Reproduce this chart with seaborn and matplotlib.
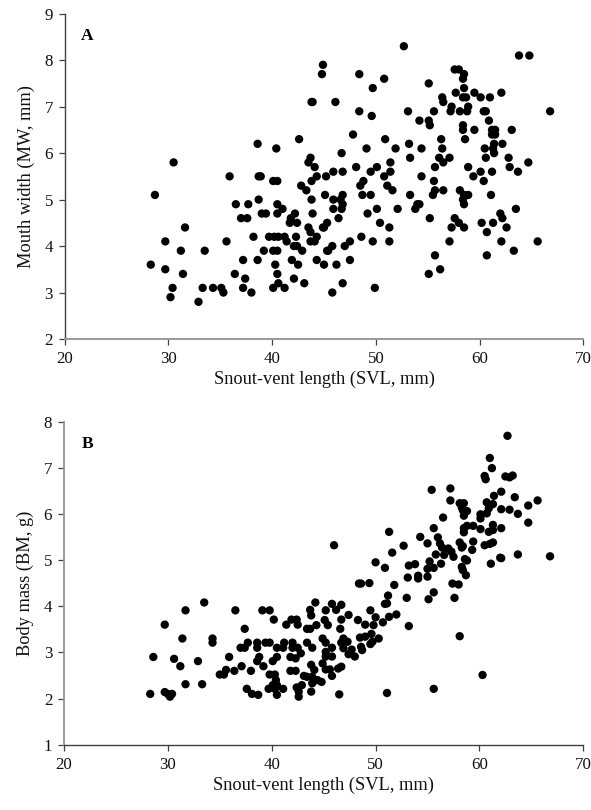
import matplotlib
matplotlib.use("Agg")
import matplotlib.pyplot as plt
import seaborn as sns

sns.set_theme(style="white")
plt.rcParams['font.family'] = ['Liberation Serif', 'DejaVu Serif']

x_ticks = [20, 30, 40, 50, 60, 70]
y_ticks_a = [2, 3, 4, 5, 6, 7, 8, 9]
y_ticks_b = [1, 2, 3, 4, 5, 6, 7, 8]
x_title = "Snout-vent length (SVL, mm)"
y_title_a = "Mouth width (MW, mm)"
y_title_b = "Body mass (BM, g)"

svl_a = [
    52.7, 63.8, 64.8, 44.9, 57.6, 58.0, 44.8, 48.4, 58.5, 50.8, 58.4, 55.1,
    49.7, 58.5, 57.7, 59.5, 62.1, 56.4, 58.4, 58.7, 60.1, 61.0, 43.9, 43.8,
    46.1, 56.5, 57.3, 58.9, 48.4, 53.1, 55.6, 57.2, 58.1, 58.8, 60.4, 60.6,
    66.8, 49.6, 54.2, 55.1, 60.9, 55.2, 58.4, 58.4, 59.5, 61.2, 61.5, 63.1,
    47.8, 61.2, 61.5, 42.6, 50.9, 56.3, 58.6, 38.6, 53.2, 61.4, 62.2, 40.4,
    49.1, 51.9, 54.4, 56.4, 60.5, 61.3, 46.7, 61.4, 43.7, 53.3, 56.1, 57.1,
    60.6, 62.8, 30.5, 43.5, 51.4, 56.5, 64.7, 44.1, 48.1, 50.1, 55.7, 58.9,
    62.9, 45.9, 46.8, 49.5, 51.4, 60.1, 61.2, 63.7, 35.9, 38.7, 38.9, 44.3,
    45.2, 50.8, 54.4, 59.4, 40.1, 40.5, 43.8, 48.8, 55.6, 60.4, 42.8, 48.5,
    51.1, 43.3, 51.6, 55.7, 56.5, 58.1, 28.7, 45.1, 46.8, 48.7, 49.5, 53.3,
    55.5, 58.5, 58.9, 61.1, 38.7, 43.8, 45.9, 46.6, 58.4, 36.5, 37.7, 40.5,
    46.8, 54.2, 54.0, 58.5, 41.0, 45.9, 46.7, 50.1, 52.1, 53.8, 63.5, 39.0,
    39.4, 40.5, 42.2, 43.9, 49.2, 62.0, 37.0, 37.6, 41.8, 46.4, 55.2, 57.6,
    62.2, 41.7, 42.4, 45.3, 50.4, 58.0, 60.2, 61.3, 31.6, 43.5, 44.9, 45.0,
    51.3, 57.3, 58.5, 62.6, 43.7, 60.7, 38.2, 39.7, 40.2, 40.6, 41.2, 42.3,
    44.3, 48.6, 29.7, 35.6, 41.4, 43.7, 44.1, 47.5, 49.7, 51.3, 57.1, 62.1,
    65.6, 42.1, 42.4, 45.8, 47.0, 31.2, 33.5, 39.2, 40.1, 40.5, 42.9, 45.3,
    45.4, 63.3, 55.7, 60.7, 37.2, 38.6, 41.9, 44.3, 47.5, 28.3, 40.3, 42.5,
    45.0, 46.2, 29.7, 56.2, 31.4, 36.4, 40.5, 55.1, 37.4, 42.1, 40.6, 43.1,
    46.8, 30.4, 33.3, 34.3, 35.1, 37.2, 40.1, 41.2, 49.9, 35.3, 38.0, 45.8,
    30.2, 32.9,
]
mw_a = [
    8.3, 8.1, 8.1, 7.9, 7.8, 7.8, 7.7, 7.7, 7.7, 7.6, 7.6, 7.5,
    7.4, 7.4, 7.3, 7.3, 7.3, 7.2, 7.2, 7.2, 7.2, 7.2, 7.1, 7.1,
    7.1, 7.1, 7.0, 7.0, 6.9, 6.9, 6.9, 6.9, 6.9, 6.9, 6.9, 6.9,
    6.9, 6.8, 6.7, 6.7, 6.7, 6.6, 6.6, 6.5, 6.5, 6.5, 6.5, 6.5,
    6.4, 6.4, 6.4, 6.3, 6.3, 6.3, 6.3, 6.2, 6.2, 6.2, 6.2, 6.1,
    6.1, 6.1, 6.1, 6.1, 6.1, 6.1, 6.0, 6.0, 5.9, 5.9, 5.9, 5.9,
    5.9, 5.9, 5.8, 5.8, 5.8, 5.8, 5.8, 5.7, 5.7, 5.7, 5.7, 5.7,
    5.7, 5.6, 5.6, 5.6, 5.6, 5.6, 5.6, 5.6, 5.5, 5.5, 5.5, 5.5,
    5.5, 5.5, 5.5, 5.5, 5.4, 5.4, 5.4, 5.4, 5.4, 5.4, 5.3, 5.3,
    5.3, 5.2, 5.2, 5.2, 5.2, 5.2, 5.1, 5.1, 5.1, 5.1, 5.1, 5.1,
    5.1, 5.1, 5.1, 5.1, 5.0, 5.0, 5.0, 5.0, 5.0, 4.9, 4.9, 4.9,
    4.9, 4.9, 4.9, 4.9, 4.8, 4.8, 4.8, 4.8, 4.8, 4.8, 4.8, 4.7,
    4.7, 4.7, 4.7, 4.7, 4.7, 4.7, 4.6, 4.6, 4.6, 4.6, 4.6, 4.6,
    4.6, 4.5, 4.5, 4.5, 4.5, 4.5, 4.5, 4.5, 4.4, 4.4, 4.4, 4.4,
    4.4, 4.4, 4.4, 4.4, 4.3, 4.3, 4.2, 4.2, 4.2, 4.2, 4.2, 4.2,
    4.2, 4.2, 4.1, 4.1, 4.1, 4.1, 4.1, 4.1, 4.1, 4.1, 4.1, 4.1,
    4.1, 4.0, 4.0, 4.0, 4.0, 3.9, 3.9, 3.9, 3.9, 3.9, 3.9, 3.9,
    3.9, 3.9, 3.8, 3.8, 3.7, 3.7, 3.7, 3.7, 3.7, 3.6, 3.6, 3.6,
    3.6, 3.6, 3.5, 3.5, 3.4, 3.4, 3.4, 3.4, 3.3, 3.3, 3.2, 3.2,
    3.2, 3.1, 3.1, 3.1, 3.1, 3.1, 3.1, 3.1, 3.1, 3.0, 3.0, 3.0,
    2.9, 2.8,
]

svl_b = [
    28.3, 28.6, 29.7, 29.7, 30.0, 30.2, 30.4, 30.6,
    31.2, 31.7, 31.4, 31.7, 32.9, 33.3, 33.5, 34.3,
    34.3, 35.0, 35.4, 35.6, 35.9, 36.4, 36.5, 37.1,
    37.0, 37.4, 37.4, 37.7, 37.6, 38.0, 38.1, 38.7,
    38.6, 38.6, 39.1, 39.8, 40.2, 38.8, 38.6, 39.2,
    39.4, 39.8, 39.8, 40.3, 40.4, 40.1, 40.5, 39.7,
    40.3, 40.5, 41.1, 40.5, 40.1, 40.5, 41.2, 41.1,
    41.4, 41.9, 42.4, 42.5, 42.0, 42.0, 42.5, 42.8,
    41.8, 42.3, 41.8, 42.3, 43.1, 43.9, 42.4, 42.6,
    42.6, 42.9, 43.4, 43.9, 43.4, 43.7, 44.3, 43.7,
    43.8, 44.2, 45.2, 45.1, 45.4, 44.9, 45.2, 45.2,
    45.2, 44.9, 45.2, 43.8, 44.1, 43.4, 44.4, 44.8,
    43.9, 43.8, 60.3, 58.1, 55.6, 51.1, 46.5, 53.2,
    45.8, 45.6, 46.4, 46.7, 45.8, 45.8, 46.6, 46.7,
    47.4, 48.3, 49.0, 49.8, 50.7, 51.3, 52.0, 50.0,
    49.5, 45.8, 46.7, 46.2, 46.9, 47.3, 46.7, 46.9,
    47.7, 47.4, 48.0, 48.5, 49.0, 49.6, 50.3, 49.5,
    48.6, 48.7, 49.7, 62.7, 61.0, 61.2, 60.5, 60.6,
    62.5, 62.9, 63.2, 55.4, 57.2, 62.1, 61.4, 63.4,
    65.6, 64.7, 60.7, 57.2, 58.1, 58.5, 58.3, 61.3,
    60.9, 62.1, 62.9, 63.7, 60.7, 60.1, 60.1, 58.8,
    58.5, 58.4, 56.5, 64.7, 55.6, 51.3, 58.8, 59.4,
    60.1, 58.5, 58.5, 61.3, 62.1, 60.9, 61.3, 54.3,
    56.0, 55.0, 46.0, 52.7, 56.2, 56.4, 57.0, 57.3,
    57.5, 56.6, 55.8, 58.1, 58.4, 58.3, 59.4, 59.3,
    60.5, 61.0, 61.3, 63.7, 66.8, 62.0, 62.1, 61.1,
    51.6, 50.0, 50.9, 53.2, 53.8, 55.2, 55.0, 55.6,
    56.3, 58.6, 58.8, 58.3, 58.4, 58.7, 53.1, 54.1,
    54.1, 55.0, 57.4, 58.0, 48.4, 48.6, 49.4, 51.8,
    55.6, 51.2, 53.0, 55.1, 57.6, 50.9, 51.1,
]
bm_b = [
    2.10, 2.90, 3.60, 2.14, 2.10, 2.04, 2.10, 2.86,
    2.70, 3.91, 3.30, 2.31, 2.81, 2.31, 4.08, 3.30,
    3.21, 2.52, 2.52, 2.62, 2.90, 2.60, 3.91, 2.70,
    3.10, 3.51, 3.10, 3.21, 2.21, 2.60, 2.10, 2.08,
    3.21, 3.10, 3.91, 3.91, 3.71, 2.90, 2.81, 2.70,
    3.21, 3.21, 2.52, 2.52, 2.40, 2.81, 2.90, 2.21,
    2.21, 2.29, 2.21, 2.08, 2.29, 3.10, 3.21, 3.10,
    3.60, 3.71, 3.71, 3.60, 3.21, 3.10, 3.10, 2.98,
    2.90, 2.87, 2.60, 2.60, 2.49, 2.47, 2.24, 2.15,
    2.04, 2.29, 3.21, 3.10, 3.51, 3.51, 3.59, 3.92,
    3.80, 4.08, 3.91, 3.70, 3.59, 3.30, 3.21, 3.01,
    2.91, 2.76, 2.63, 2.73, 2.62, 2.47, 2.40, 2.36,
    2.33, 2.15, 2.51, 3.35, 2.21, 2.12, 2.09, 3.57,
    2.49, 2.63, 2.65, 2.69, 2.91, 3.10, 3.51, 3.71,
    3.81, 3.70, 3.60, 3.59, 3.65, 3.77, 3.82, 3.76,
    3.91, 4.05, 4.03, 3.92, 3.30, 3.23, 3.21, 3.09,
    3.06, 2.96, 2.91, 3.32, 3.34, 3.40, 3.30, 3.18,
    3.12, 3.05, 3.23, 7.69, 7.21, 6.99, 6.82, 6.75,
    6.81, 6.79, 6.83, 6.52, 6.55, 6.48, 6.39, 6.36,
    6.29, 6.18, 6.25, 6.29, 6.23, 6.23, 6.14, 6.21,
    6.12, 6.10, 6.09, 6.00, 6.01, 5.99, 5.90, 6.06,
    5.96, 6.08, 5.92, 5.81, 5.69, 5.61, 5.74, 5.74,
    5.67, 5.69, 5.60, 5.76, 5.69, 5.61, 5.65, 5.50,
    5.49, 5.36, 5.32, 5.31, 5.36, 5.27, 5.25, 5.18,
    5.07, 5.11, 5.12, 5.38, 5.30, 5.27, 5.40, 5.22,
    5.32, 5.35, 5.38, 5.12, 5.08, 5.05, 5.04, 4.92,
    5.16, 4.95, 4.83, 4.88, 4.91, 4.97, 4.81, 4.83,
    4.92, 5.02, 4.99, 4.85, 4.78, 4.67, 4.62, 4.66,
    4.60, 4.64, 4.49, 4.47, 4.49, 4.49, 4.50, 4.46,
    4.30, 4.23, 4.18, 4.15, 4.18, 4.05, 4.06,
]

W, H = 591, 810
fig = plt.figure(figsize=(W / 100, H / 100), dpi=100, facecolor="white")


def px_axes(l, t, r, b):
    return fig.add_axes([l / W, 1 - b / H, (r - l) / W, (b - t) / H])


DARK = "#404040"
GREY = "#9a9a9a"
FS = 12.2


def style(ax, xs, ys, yticks, ylabel, letter, lx, ly, left_col, bottom_col):
    sns.scatterplot(x=xs, y=ys, ax=ax, s=36, color="black", edgecolor="none", linewidth=0, zorder=3)
    ax.set_xlim(x_ticks[0], x_ticks[-1])
    ax.set_ylim(yticks[0], yticks[-1])
    ax.set_xticks(x_ticks)
    ax.set_yticks(yticks)
    ax.tick_params(axis="both", direction="out", length=4.5, width=0.9, color=DARK,
                   labelsize=FS, labelcolor="#111111", pad=4, bottom=True, left=True)
    for s in ("top", "right"):
        ax.spines[s].set_visible(False)
    ax.spines["left"].set_color(left_col)
    ax.spines["bottom"].set_color(bottom_col)
    ax.spines["left"].set_linewidth(1.0 if left_col == DARK else 1.4)
    ax.spines["bottom"].set_linewidth(1.0 if bottom_col == DARK else 1.4)
    ax.set_xlabel(x_title, fontsize=13.2, color="#111111", labelpad=3)
    ax.set_ylabel(ylabel, fontsize=13.2, color="#111111", labelpad=7)
    ax.text(lx, ly, letter, transform=ax.transAxes, fontsize=12.5, fontweight="bold",
            color="black", ha="left", va="center")
    ax.patch.set_alpha(0)


ax_a = px_axes(64.7, 13.7, 583.3, 339)
style(ax_a, svl_a, mw_a, y_ticks_a, y_title_a, "A", 0.032, 0.93, DARK, GREY)
ax_b = px_axes(64, 421.5, 583.3, 744.7)
style(ax_b, svl_b, bm_b, y_ticks_b, y_title_b, "B", 0.034, 0.93, GREY, DARK)

fig.savefig("out.png", dpi=100, facecolor="white")
